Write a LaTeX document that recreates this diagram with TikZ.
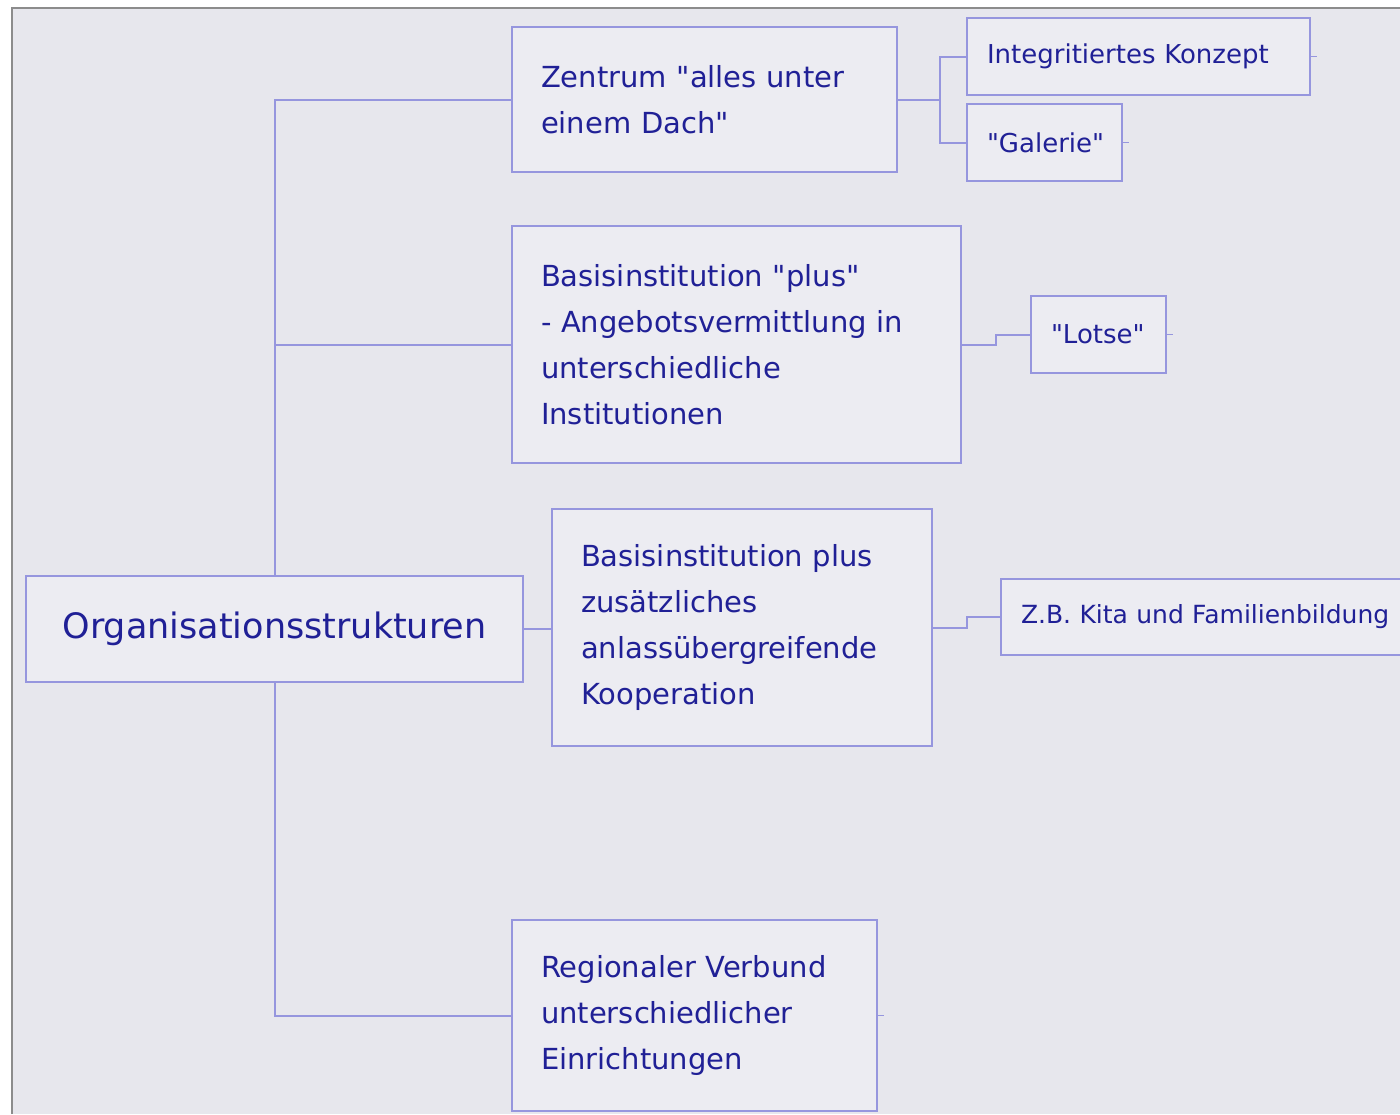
\documentclass[tikz,border=0pt]{standalone}
\usepackage{fontspec}
\setmainfont{DejaVu Sans}[Ligatures=TeXOff]
\usetikzlibrary{positioning, calc}
\definecolor{mapink}{RGB}{32, 32, 150}
\definecolor{mapline}{RGB}{150, 150, 222}
\definecolor{mapbg}{RGB}{231, 231, 237}
\definecolor{mapfill}{RGB}{236, 236, 242}
\definecolor{mapframe}{RGB}{140, 140, 140}

\begin{document}
\begin{tikzpicture}[
  x=0.5pt, y=-0.5pt,
  every node/.style={anchor=north west, draw=mapline, line width=1pt, fill=mapfill, text=mapink, align=left, inner xsep=14.5pt, inner ysep=0pt},
  topic/.style={font=\fontsize{14.5}{23}\selectfont},
  leaf/.style={font=\fontsize{13}{18}\selectfont, inner xsep=10pt, minimum height=38.5pt},
  root/.style={font=\fontsize{17.5}{22}\selectfont, align=center, text width=219.5pt, minimum height=53pt},
  link/.style={draw=mapline, line width=1pt},
  stub/.style={draw=mapline, line width=0.8pt}
]
  \useasboundingbox (0,0) rectangle (1400,1114);
  \clip (0,0) rectangle (1400,1114);

  % Sheet
  \fill[white] (0,0) rectangle (1400,1114);
  \fill[mapbg] (12,8) rectangle (1400,1114);
  \draw[mapframe, line width=1.4pt] (12,1114) -- (12,8) -- (1400,8);

  % Central topic
  \node[root] (org) at (25, 575) {Organisationsstrukturen};

  % Main branches
  \node[topic, text width=163.5pt, minimum height=72.5pt] (zentrum) at (511, 26) {Zentrum "alles unter\\einem Dach"};
  \node[topic, text width=195.5pt, minimum height=118.5pt] (basis) at (511, 225) {Basisinstitution "plus"\\- Angebotsvermittlung in\\unterschiedliche\\Institutionen};
  \node[topic, text width=161pt, minimum height=118.5pt] (koop) at (551, 508) {Basisinstitution plus\\zusätzliches\\anlassübergreifende\\Kooperation};
  \node[topic, text width=153.5pt, minimum height=95.5pt] (verbund) at (511, 919) {Regionaler Verbund\\unterschiedlicher\\Einrichtungen};

  % Sub topics
  \node[leaf, text width=151.5pt] (konzept) at (966, 17) {Integritiertes Konzept};
  \node[leaf, text width=57.5pt] (galerie) at (966, 103) {"Galerie"};
  \node[leaf, text width=47.5pt] (lotse) at (1030, 295) {"Lotse"};
  \node[leaf, text width=195pt, minimum height=38pt, font=\fontsize{12.5}{18}\selectfont] (kita) at (1000, 578) {Z.B. Kita und Familienbildung};

  % Trunk to the main branches
  \draw[link] (org.north) |- (zentrum.west);
  \draw[link] (org.north) |- (basis.west);
  \draw[link] (org.east) -- (org.east -| koop.west);
  \draw[link] (org.south) |- (verbund.west);

  % Sub branches
  \draw[link] (zentrum.east) -- ++(42,0) coordinate (zfork) |- (konzept.west);
  \draw[link] (zfork) |- (galerie.west);
  \draw[link] (basis.east) -| ($(basis.east)!0.5!(lotse.west)$) |- (lotse.west);
  \draw[link] (koop.east) -| ($(koop.east)!0.5!(kita.west)$) |- (kita.west);

  % Collapsed ends
  \foreach \n in {konzept, galerie, lotse, verbund}
    \draw[stub] (\n.east) -- ++(6,0);
\end{tikzpicture}
\end{document}
